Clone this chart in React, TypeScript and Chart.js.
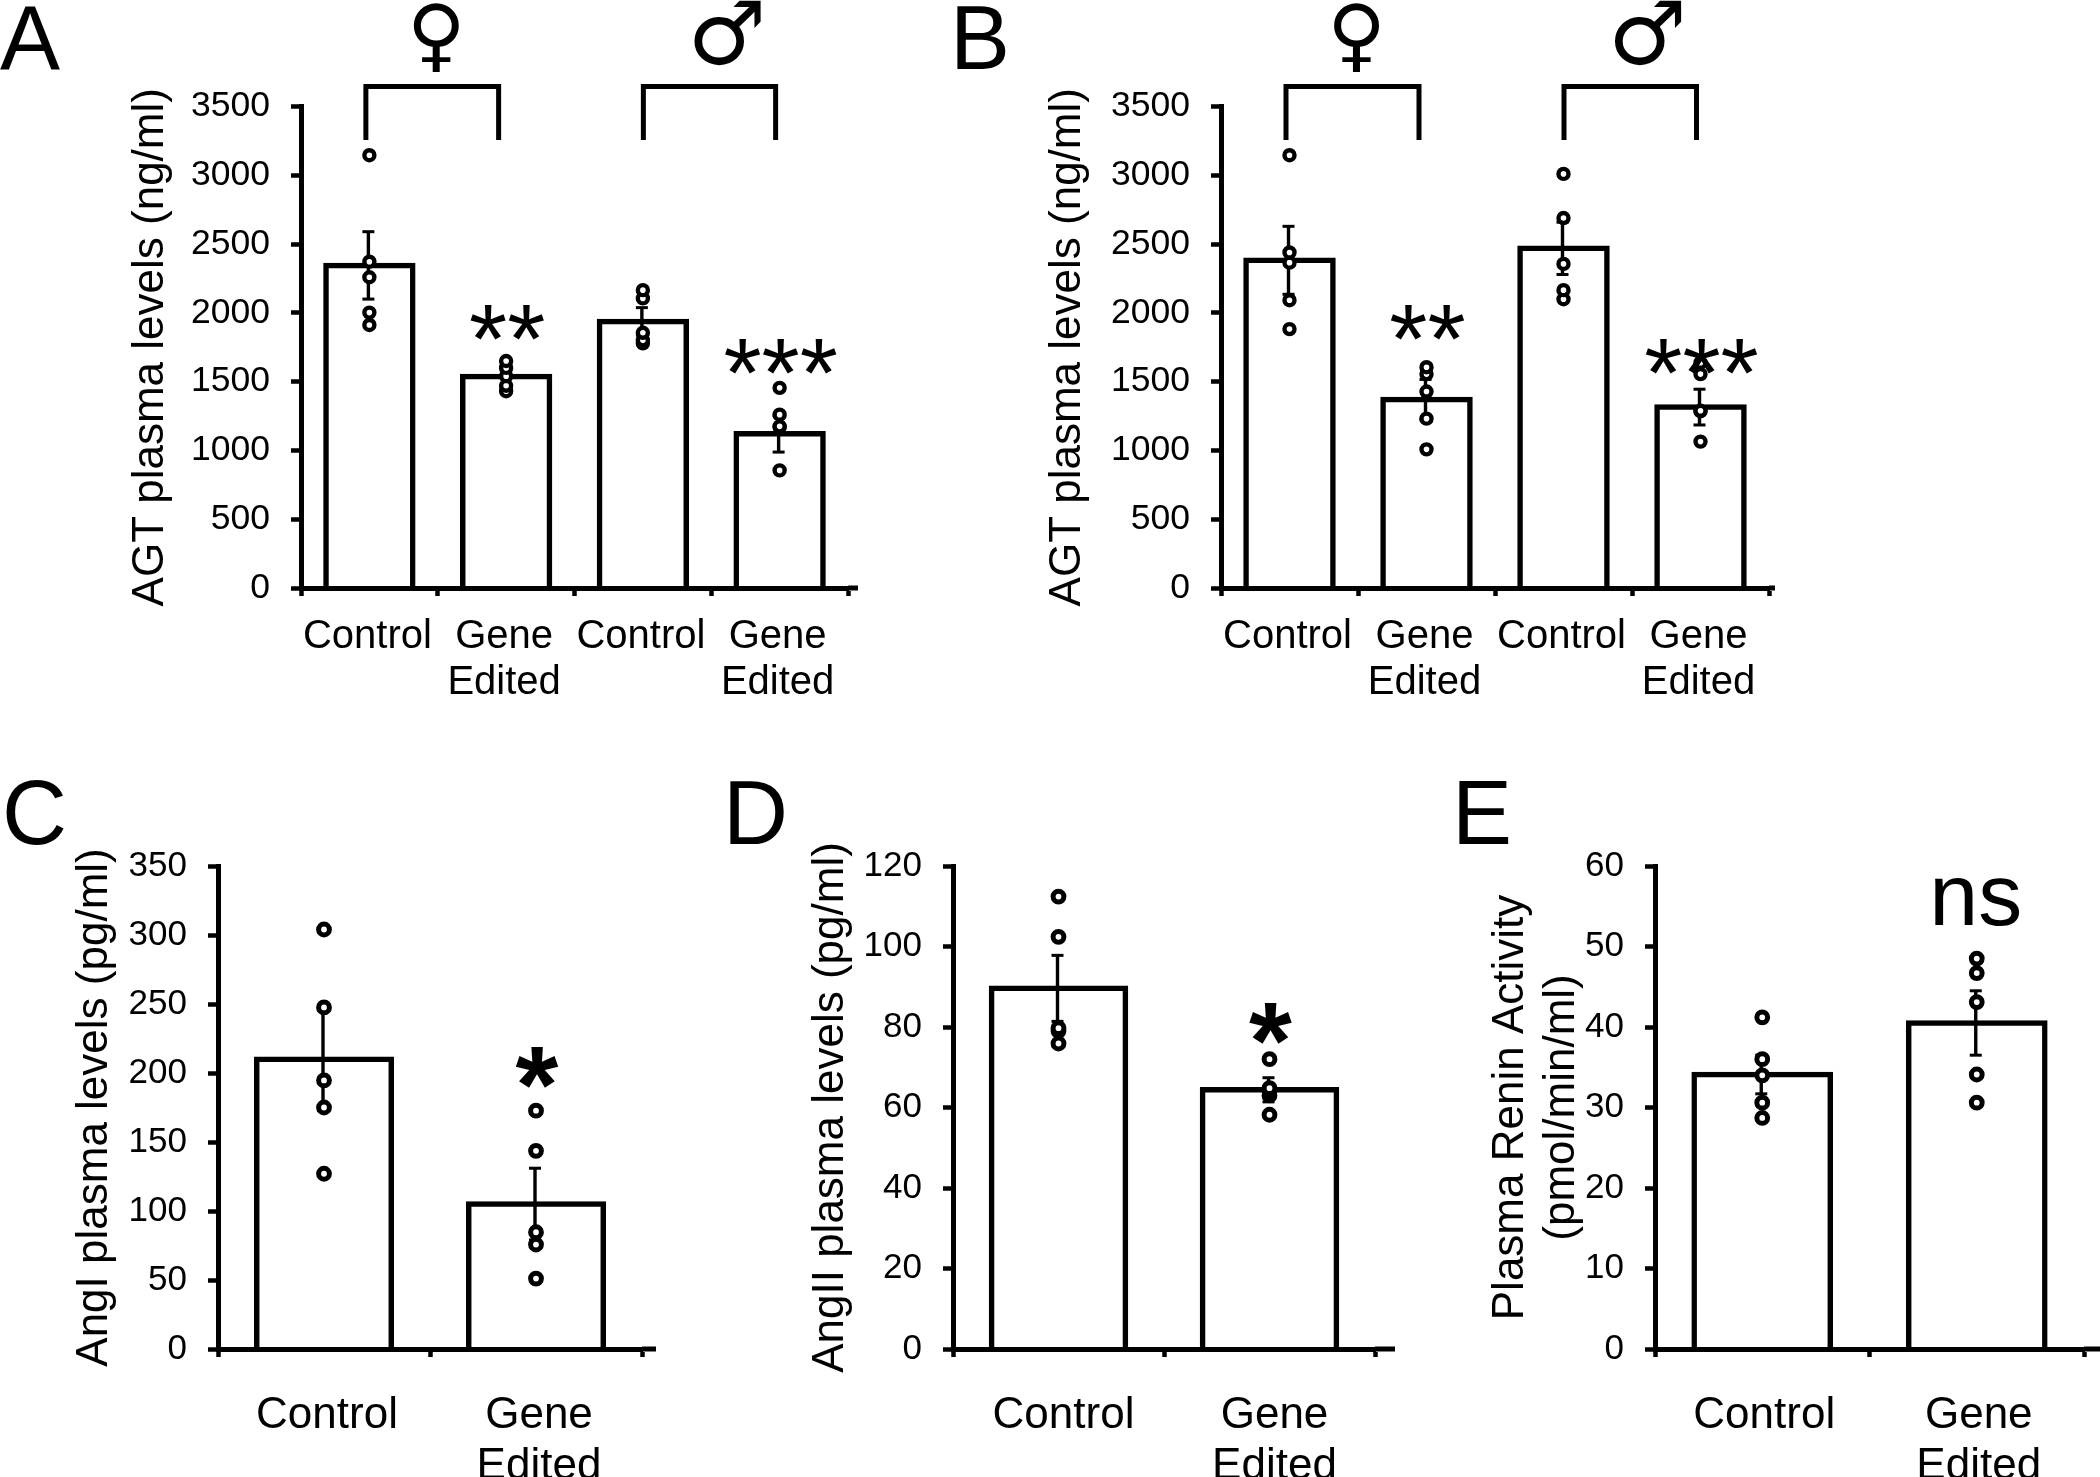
import React, { useEffect, useRef } from "react";
import { Chart, registerables } from "chart.js";

Chart.register(...registerables);

const FONT = "'Liberation Sans', Arial, sans-serif";

// ---------- data ----------
const labelsFour = ["Control", ["Gene", "Edited"], "Control", ["Gene", "Edited"]];
const labelsTwo = ["Control", ["Gene", "Edited"]];

const ticksAB = { max: 3500, step: 500 };
const ticksC = { max: 350, step: 50 };
const ticksD = { max: 120, step: 20 };
const ticksE = { max: 60, step: 10 };

const meansA = [2345, 1538, 1938, 1121];
const semA = [245, 70, 100, 133];
const pointsA = [
  [3146, 2372, 2259, 2002, 1912],
  [1650, 1600, 1540, 1470, 1430],
  [2165, 2105, 1855, 1800, 1778],
  [1455, 1260, 1175, 1170, 855],
];

const meansB = [2382, 1371, 2469, 1315];
const semB = [247, 145, 190, 130];
const pointsB = [
  [3146, 2439, 2365, 2092, 1882],
  [1605, 1555, 1428, 1231, 1008],
  [3010, 2689, 2356, 2165, 2099],
  [1638, 1555, 1288, 1285, 1064],
];

const meansC = [210, 105];
const semC = [37, 26];
const pointsC = [
  [304, 247.5, 194.6, 175, 127],
  [172.7, 143.6, 84.6, 75.7, 51],
];

const meansD = [89.6, 64.4];
const semD = [8.2, 3];
const pointsD = [
  [112.4, 102.4, 79.7, 79, 75.9],
  [72, 64.8, 64, 63, 58.2],
];

const meansE = [34.1, 40.5];
const semE = [2.4, 4];
const pointsE = [
  [41.2, 36, 34, 30.6, 28.7],
  [48.5, 46.7, 43.1, 34.1, 30.6],
];

const starsA = [{ cat: 1, text: "**", value: 1922 }, { cat: 3, text: "***", value: 1672 }];
const starsB = [{ cat: 1, text: "**", value: 1922 }, { cat: 3, text: "***", value: 1672 }];
const starsC = [{ cat: 1, text: "*", value: 204 }];
const starsD = [{ cat: 1, text: "*", value: 81 }];
const starsE = [{ cat: 1, text: "ns", value: 0 }];

// ---------- panels ----------
const panels = [
  {
    letter: "A", letterX: 0, letterY: 69,
    rect: [0, 0, 920, 720], plot: [301, 848, 106.5, 588], overhang: 10,
    labels: labelsFour, means: meansA, sem: semA, points: pointsA, ticks: ticksAB, stars: starsA,
    title: "AGT plasma levels (ng/ml)", titlePad: 126, tickSize: 35.5, labelSize: 40, labelPad: 18, labelOffset: -2,
    barPct: 0.635, radius: 5, ring: 4.4, sexes: true,
    starFont: "98px " + FONT,
  },
  {
    letter: "B", letterX: 20, letterY: 69,
    rect: [930, 0, 900, 720], plot: [1221, 1769, 106.5, 588], overhang: 6,
    labels: labelsFour, means: meansB, sem: semB, points: pointsB, ticks: ticksAB, stars: starsB,
    title: "AGT plasma levels (ng/ml)", titlePad: 113, tickSize: 35.5, labelSize: 40, labelPad: 18, labelOffset: -2,
    barPct: 0.635, radius: 5, ring: 4.4, sexes: true,
    starFont: "98px " + FONT,
  },
  {
    letter: "C", letterX: 2, letterY: 74,
    rect: [0, 770, 700, 707], plot: [218, 642, 866, 1349], overhang: 14,
    labels: labelsTwo, means: meansC, sem: semC, points: pointsC, ticks: ticksC, stars: starsC,
    title: "AngI plasma levels (pg/ml)", titlePad: 70, tickSize: 35, labelSize: 44, labelPad: 34, labelOffset: 3,
    barPct: 0.635, radius: 5.4, ring: 5, sexes: false,
    starFont: "bold 110px " + FONT,
  },
  {
    letter: "D", letterX: 23, letterY: 74,
    rect: [700, 770, 700, 707], plot: [953, 1375, 866, 1349], overhang: 20,
    labels: labelsTwo, means: meansD, sem: semD, points: pointsD, ticks: ticksD, stars: starsD,
    title: "AngII plasma levels (pg/ml)", titlePad: 106, tickSize: 35, labelSize: 44, labelPad: 34, labelOffset: 5,
    barPct: 0.635, radius: 5.4, ring: 5, sexes: false,
    starFont: "bold 110px " + FONT,
  },
  {
    letter: "E", letterX: 52, letterY: 74,
    rect: [1400, 770, 700, 707], plot: [1655, 2084, 866, 1349], overhang: 16,
    labels: labelsTwo, means: meansE, sem: semE, points: pointsE, ticks: ticksE, stars: starsE,
    title: ["Plasma Renin Activity", "(pmol/min/ml)"], titlePad: 86, tickSize: 35, labelSize: 44, labelPad: 34, labelOffset: 2,
    barPct: 0.635, radius: 5.4, ring: 5, sexes: false,
    starFont: "88px " + FONT,
  },
];

const bracketOffsets = [
  { cat: 0, left: -3.5, right: -7.5 },
  { cat: 2, left: 0.5, right: -4 },
];

// ---------- drawing helpers (all marks go through the chart's scales) ----------
const decorations = {
  id: "decorations",
  afterDatasetDraw(chart: any, args: any, opts: any) {
    if (args.index !== 0) return;
    const { x, y } = chart.scales;
    const ctx = chart.ctx;
    ctx.save();
    ctx.strokeStyle = "#000";
    opts.means.forEach((m: number, i: number) => {
      const px = x.getPixelForValue(i) - 1;
      const top = y.getPixelForValue(m + opts.sem[i]);
      const bot = y.getPixelForValue(m - opts.sem[i]);
      ctx.lineWidth = 3.4;
      ctx.beginPath();
      ctx.moveTo(px, top);
      ctx.lineTo(px, bot);
      ctx.stroke();
      ctx.lineWidth = 3;
      [top, bot].forEach((p) => {
        ctx.beginPath();
        ctx.moveTo(px - 6, p);
        ctx.lineTo(px + 6, p);
        ctx.stroke();
      });
    });
    ctx.restore();
  },
  afterDraw(chart: any, _args: any, opts: any) {
    const { x, y } = chart.scales;
    const ctx = chart.ctx;
    const area = chart.chartArea;
    ctx.save();
    ctx.strokeStyle = "#000";
    ctx.fillStyle = "#000";

    // the x axis runs on past its last tick
    ctx.lineWidth = 5;
    ctx.beginPath();
    ctx.moveTo(area.right, area.bottom);
    ctx.lineTo(area.right + opts.overhang, area.bottom);
    ctx.stroke();

    // panel letter
    ctx.font = "90px " + FONT;
    ctx.textAlign = "left";
    ctx.textBaseline = "alphabetic";
    ctx.fillText(opts.letter, opts.letterX, opts.letterY);

    // significance marks
    ctx.textAlign = "center";
    opts.stars.forEach((s: any) => {
      ctx.font = opts.starFont;
      const cx = x.getPixelForValue(s.cat) + 1;
      if (s.text === "ns") {
        ctx.fillText(s.text, cx - 2, area.top + 59);
      } else {
        const size = parseFloat(opts.starFont.replace("bold ", ""));
        ctx.fillText(s.text, cx, y.getPixelForValue(s.value) + 0.5 * size);
      }
    });

    // sex brackets and symbols
    if (opts.sexes) {
      ctx.lineWidth = 5;
      ctx.lineJoin = "miter";
      bracketOffsets.forEach((b) => {
        const l = x.getPixelForValue(b.cat) + b.left;
        const r = x.getPixelForValue(b.cat + 1) + b.right;
        ctx.beginPath();
        ctx.moveTo(l, area.top + 33.5);
        ctx.lineTo(l, area.top - 20);
        ctx.lineTo(r, area.top - 20);
        ctx.lineTo(r, area.top + 33.5);
        ctx.stroke();
      });
      ctx.font = "80px 'DejaVu Sans'";
      ctx.fillText("\u2640", x.getPixelForValue(0) + 67, 62);
      ctx.font = "88px 'DejaVu Sans'";
      ctx.fillText("\u2642", x.getPixelForValue(2) + 84, 64);
    }
    ctx.restore();
  },
};

function Panel({ cfg }: { cfg: any }) {
  const ref = useRef<HTMLCanvasElement | null>(null);
  useEffect(() => {
    const [rx, ry, rw, rh] = cfg.rect;
    const [pl, pr, pt, pb] = cfg.plot;
    const replicateCount = cfg.points[0].length;
    const replicates = Array.from({ length: replicateCount }, (_, k) => ({
      type: "line",
      data: cfg.points.map((p: number[]) => p[k]),
      showLine: false,
      pointRadius: cfg.radius,
      pointBorderWidth: cfg.ring,
      pointBackgroundColor: "#fff",
      pointBorderColor: "#000",
      order: 1,
    }));
    const chart = new Chart(ref.current as HTMLCanvasElement, {
      type: "bar",
      data: {
        labels: cfg.labels,
        datasets: [
          {
            type: "bar",
            data: cfg.means,
            backgroundColor: "transparent",
            borderColor: "#000",
            borderWidth: 0.01,
            inflateAmount: 2.75,
            borderSkipped: "start",
            barPercentage: cfg.barPct,
            categoryPercentage: 1,
            order: 2,
          },
          ...replicates,
        ],
      } as any,
      plugins: [decorations],
      options: {
        animation: false,
        responsive: false,
        events: [],
        font: { family: FONT },
        layout: {
          padding: { left: 0, top: pt - ry, right: rx + rw - pr, bottom: 0 },
        },
        plugins: {
          legend: { display: false },
          tooltip: { enabled: false },
          decorations: {
            letter: cfg.letter,
            letterX: cfg.letterX,
            letterY: cfg.letterY,
            means: cfg.means,
            sem: cfg.sem,
            stars: cfg.stars,
            starFont: cfg.starFont,
            sexes: cfg.sexes,
            overhang: cfg.overhang,
          },
        },
        scales: {
          x: {
            type: "category",
            offset: true,
            grid: { offset: true, drawOnChartArea: false, drawTicks: true, tickLength: 8, tickWidth: 4.5, tickColor: "#000" },
            border: { display: true, color: "#000", width: 5, z: 1 },
            ticks: {
              color: "#000",
              autoSkip: false,
              maxRotation: 0,
              minRotation: 0,
              padding: cfg.labelPad,
              labelOffset: cfg.labelOffset,
              font: { family: FONT, size: cfg.labelSize, lineHeight: 1.15 },
            },
            afterFit: (s: any) => { s.height = ry + rh - pb; },
          },
          y: {
            type: "linear",
            min: 0,
            max: cfg.ticks.max,
            grid: { drawOnChartArea: false, drawTicks: true, tickLength: 10, tickWidth: 4.5, tickColor: "#000" },
            border: { display: true, color: "#000", width: 5, z: 1 },
            ticks: {
              color: "#000",
              stepSize: cfg.ticks.step,
              padding: 21,
              format: { useGrouping: false },
              font: { family: FONT, size: cfg.tickSize },
            },
            title: {
              display: true,
              text: cfg.title,
              color: "#000",
              font: { family: FONT, size: 44, lineHeight: 1.15 },
              padding: { top: cfg.titlePad, bottom: 0 },
            },
            afterFit: (s: any) => { s.width = pl - rx; },
          },
        },
      } as any,
    } as any);
    return () => chart.destroy();
  }, [cfg]);
  const [rx, ry, rw, rh] = cfg.rect;
  return (
    <canvas
      ref={ref}
      width={rw}
      height={rh}
      style={{ position: "absolute", left: rx, top: ry, width: rw, height: rh, display: "block" }}
    />
  );
}

export default function App() {
  return (
    <div style={{ position: "absolute", left: 0, top: 0, width: 2100, height: 1477, background: "#fff", overflow: "hidden" }}>
      {panels.map((p) => (
        <Panel key={p.letter} cfg={p} />
      ))}
    </div>
  );
}
